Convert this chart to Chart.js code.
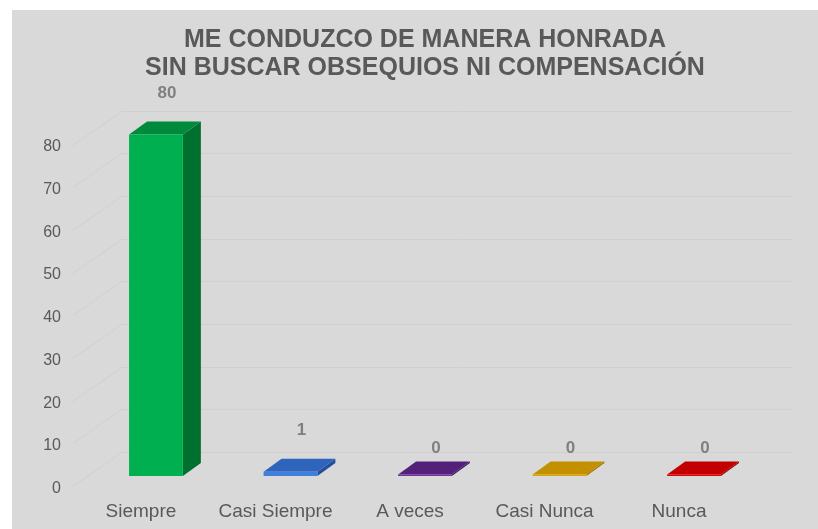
<!DOCTYPE html>
<html lang="es">
<head>
  <meta charset="UTF-8" />
  <title>Me conduzco de manera honrada</title>
  <script src="https://cdn.jsdelivr.net/npm/chart.js"></script>
  <style>
    body { margin: 0; background: #fff; }
    #panel { position: absolute; left: 12px; top: 10px; width: 806px; height: 519px; background: #d9d9d9; }
  </style>
</head>
<body>

  <div id="panel"><canvas id="graficoHonradez"></canvas></div>

  <script>
    const categorias = ['Siempre', 'Casi Siempre', 'A veces', 'Casi Nunca', 'Nunca'];
    const respuestas = [80, 1, 0, 0, 0];
    const ticksY = [0, 10, 20, 30, 40, 50, 60, 70, 80];
    const titulo = ['ME CONDUZCO DE MANERA HONRADA', 'SIN BUSCAR OBSEQUIOS NI COMPENSACIÓN'];

    // colores de cada cara de las barras 3D
    const colorFrente = ['#00b050', '#3f80dd', '#7030a0', '#dba400', '#e20000'];
    const colorArriba = ['#008a3c', '#2f64bd', '#53207a', '#c29000', '#c20000'];
    const colorLado = ['#00702f', '#244f99', '#401860', '#9a7300', '#990000'];

    const FUENTE = 'Arial, "Liberation Sans", sans-serif';
    const PROF_X = 18, PROF_Y = -13;

    // paredes (lineas de cuadricula en perspectiva)
    const paredes = {
      id: 'paredes',
      beforeDatasetsDraw(chart) {
        const ctx = chart.ctx, area = chart.chartArea, y = chart.scales.y;
        ctx.save();
        ctx.strokeStyle = '#d0d0d0';
        ctx.lineWidth = 1;
        ticksY.forEach(v => {
          const py = Math.round(y.getPixelForValue(v)) + 0.5;
          ctx.beginPath();
          ctx.moveTo(area.left - 16, py + 10);
          ctx.lineTo(area.left + 33, py - 24);
          ctx.lineTo(area.right + 32, py - 24);
          ctx.stroke();
        });
        ctx.restore();
      }
    };

    // barras en 3D + etiquetas de datos
    const barras3d = {
      id: 'barras3d',
      afterDatasetsDraw(chart) {
        const ctx = chart.ctx;
        const meta = chart.getDatasetMeta(0);
        ctx.save();
        meta.data.forEach((bar, i) => {
          const w = bar.width, x0 = bar.x - w / 2, x1 = bar.x + w / 2;
          const base = bar.base;
          const top = Math.min(bar.y, base - 1.5);

          // cara lateral
          ctx.fillStyle = colorLado[i];
          ctx.beginPath();
          ctx.moveTo(x1, top);
          ctx.lineTo(x1 + PROF_X, top + PROF_Y);
          ctx.lineTo(x1 + PROF_X, base + PROF_Y);
          ctx.lineTo(x1, base);
          ctx.closePath();
          ctx.fill();

          // cara superior
          ctx.fillStyle = colorArriba[i];
          ctx.beginPath();
          ctx.moveTo(x0, top);
          ctx.lineTo(x1, top);
          ctx.lineTo(x1 + PROF_X, top + PROF_Y);
          ctx.lineTo(x0 + PROF_X, top + PROF_Y);
          ctx.closePath();
          ctx.fill();

          // cara frontal
          ctx.fillStyle = colorFrente[i];
          ctx.fillRect(x0, top, w, base - top);

          // etiqueta
          const v = respuestas[i];
          ctx.fillStyle = '#808080';
          ctx.font = 'bold 17px ' + FUENTE;
          ctx.textAlign = 'center';
          ctx.textBaseline = 'middle';
          ctx.fillText(String(v), bar.x + 11, bar.y - (v > 0 ? 41 : 28));
        });
        ctx.restore();
      }
    };

    const ctx = document.getElementById('graficoHonradez').getContext('2d');

    const chart = new Chart(ctx, {
      type: 'bar',
      data: {
        labels: categorias,
        datasets: [
          {
            label: 'Respuestas',
            data: respuestas,
            backgroundColor: 'rgba(0,0,0,0)',
            barPercentage: 0.4,
            categoryPercentage: 1
          }
        ]
      },
      options: {
        responsive: true,
        maintainAspectRatio: false,
        animation: false,
        layout: {
          padding: { left: 0, right: 56.7, top: 0, bottom: 0 }
        },
        scales: {
          x: {
            grid: { display: false },
            border: { display: false },
            afterFit: s => { s.height = 53; },
            ticks: {
              color: '#595959',
              font: { family: FUENTE, size: 19 },
              padding: 16,
              labelOffset: -15,
              maxRotation: 0
            }
          },
          y: {
            min: 0,
            max: 80,
            grid: { display: false, drawTicks: false },
            border: { display: false },
            afterFit: s => { s.width = 76.7; },
            afterBuildTicks: s => { s.ticks = ticksY.map(v => ({ value: v })); },
            ticks: {
              color: '#595959',
              font: { family: FUENTE, size: 16 },
              padding: 27.7,
              labelOffset: 12.5
            }
          }
        },
        plugins: {
          legend: { display: false },
          tooltip: { enabled: false },
          title: {
            display: true,
            fullSize: false,
            text: titulo,
            color: '#595959',
            font: { family: FUENTE, size: 25, weight: 'bold', lineHeight: 1.13 },
            padding: { top: 16, bottom: 52 }
          }
        }
      },
      plugins: [paredes, barras3d]
    });
  </script>

</body>
</html>
